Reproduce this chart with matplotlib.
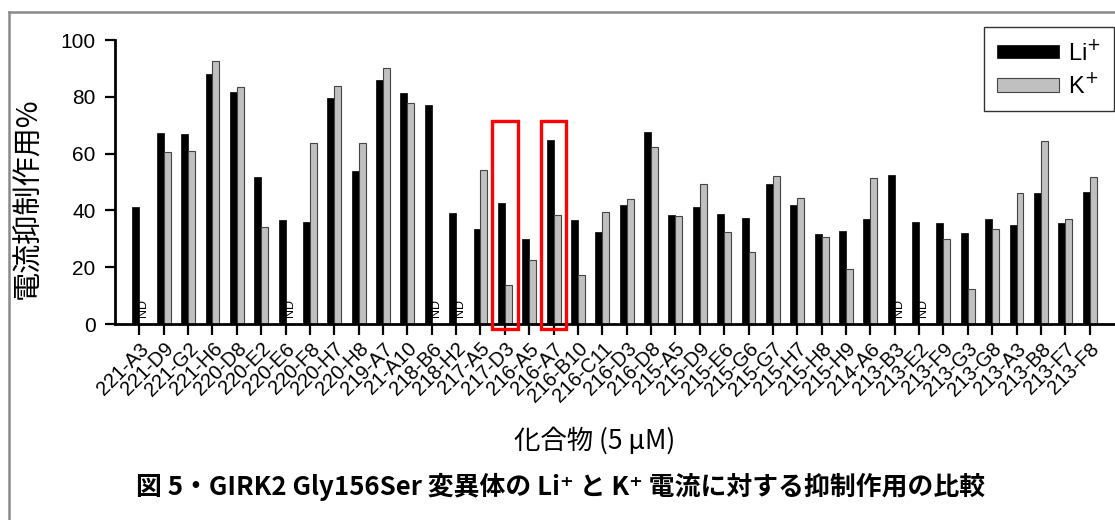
import matplotlib
matplotlib.use("Agg")
import matplotlib.pyplot as plt
from matplotlib.lines import Line2D
from matplotlib.patches import Rectangle
import numpy as np

categories = ["221-A3", "221-D9", "221-G2", "221-H6", "220-D8", "220-E2", "220-E6", "220-F8",
              "220-H7", "220-H8", "219-A7", "21-A10", "218-B6", "218-H2", "217-A5", "217-D3",
              "216-A5", "216-A7", "216-B10", "216-C11", "216-D3", "216-D8", "215-A5", "215-D9",
              "215-E6", "215-G6", "215-G7", "215-H7", "215-H8", "215-H9", "214-A6", "213-B3",
              "213-E2", "213-F9", "213-G3", "213-G8", "213-A3", "213-B8", "213-F7", "213-F8"]
li_values = [41.1, 67.3, 66.9, 88.0, 81.8, 51.6, 36.7, 35.8, 79.7, 54.0, 85.8, 81.2, 77.2, 39.2,
             33.4, 42.7, 30.0, 64.9, 36.5, 32.3, 41.8, 67.7, 38.4, 41.2, 38.7, 37.4, 49.4, 41.8,
             31.6, 32.7, 36.8, 52.6, 35.8, 35.6, 31.9, 36.8, 35.0, 46.0, 35.7, 46.4]
# None = ND (not determined)
k_values = [None, 60.7, 60.8, 92.5, 83.3, 34.0, None, 63.6, 83.9, 63.9, 90.0, 77.7, None, None,
            54.3, 13.6, 22.4, 38.3, 17.4, 39.5, 43.9, 62.4, 37.9, 49.4, 32.3, 25.5, 52.2, 44.5,
            30.8, 19.2, 51.3, None, None, 29.9, 12.4, 33.3, 46.0, 64.5, 37.1, 51.6]
highlighted = ["217-D3", "216-A7"]
yticks = [0, 20, 40, 60, 80, 100]

W, H = 1115, 520
fig = plt.figure(figsize=(W / 100, H / 100), dpi=100)
ax = fig.add_axes([115 / W, 1 - 324 / H, (1114 - 115) / W, (324 - 40) / H])

x = np.arange(len(categories))
bw = 0.285
k_plot = [v if v is not None else 0 for v in k_values]
ax.bar(x - bw / 2, li_values, width=bw, color="black", edgecolor="black", linewidth=0.5,
       label=r"Li$^{+}$", zorder=2)
ax.bar(x + bw / 2, k_plot, width=bw, color="#c0c0c0", edgecolor="#444444", linewidth=0.8,
       label=r"K$^{+}$", zorder=2)

for i, v in enumerate(k_values):
    if v is None:
        ax.text(x[i] + bw / 2 + 0.02, 2.3, "ND", rotation=90, ha="center", va="bottom",
                fontsize=9, family="Liberation Sans", zorder=3)

for name in highlighted:
    i = categories.index(name)
    ax.add_patch(Rectangle((i - 0.52, -1.8), 1.04, 73.4, fill=False, edgecolor="#ff0000",
                           linewidth=2.4, clip_on=False, zorder=4))

ax.set_xlim(-1, len(categories))
ax.set_ylim(0, 100)
ax.set_yticks(yticks)
ax.set_yticklabels([str(t) for t in yticks], family="Liberation Sans", fontsize=15)
ax.set_xticks(x)
ax.set_xticklabels(categories, rotation=45, ha="right", rotation_mode="anchor",
                   family="Liberation Sans", fontsize=14.5)
for s in ["top", "right"]:
    ax.spines[s].set_visible(False)
for s in ["left", "bottom"]:
    ax.spines[s].set_linewidth(2.0)
ax.tick_params(axis="y", direction="out", length=7, width=1.6, pad=7)
ax.tick_params(axis="x", direction="out", length=8, width=1.6, pad=3)

leg = ax.legend(loc="upper right", bbox_to_anchor=(1114 / W, 1 - 27 / H),
                bbox_transform=fig.transFigure, frameon=True, fancybox=False,
                edgecolor="black", handlelength=2.6, handleheight=0.5, borderpad=0.55,
                labelspacing=0.35, handletextpad=0.4, borderaxespad=0,
                prop={"family": "Liberation Sans", "size": 17})
leg.get_frame().set_linewidth(1.0)

cjk = ["Noto Sans CJK JP", "DejaVu Sans"]
fig.text(28 / W, 1 - 198 / H, "電流抑制作用%", rotation=90, ha="center", va="center",
         fontsize=21, family=cjk)
fig.text(595 / W, 1 - 441 / H, "化合物 (5 μM)", ha="center", va="center",
         fontsize=19, family=cjk)
fig.text(561 / W, 1 - 487 / H, "図 5・GIRK2 Gly156Ser 変異体の Li⁺ と K⁺ 電流に対する抑制作用の比較",
         ha="center", va="center", fontsize=18.6, fontweight="bold", family=cjk)

fig.add_artist(Line2D([9 / W, 9 / W], [0, 1 - 12 / H], transform=fig.transFigure,
                      color="#8a8a8a", linewidth=1.8))
fig.add_artist(Line2D([9 / W, 1], [1 - 12 / H, 1 - 12 / H], transform=fig.transFigure,
                      color="#8a8a8a", linewidth=1.8))

fig.savefig("out.png", dpi=100)
